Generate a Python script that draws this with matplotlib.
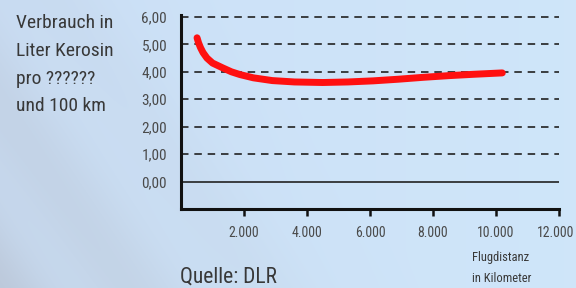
import numpy as np
import matplotlib.pyplot as plt
from matplotlib.transforms import ScaledTranslation

# Verbrauch (Liter Kerosin pro ?????? und 100 km) ueber Flugdistanz (km)
distanz = [510, 560, 620, 700, 825, 1000, 1330, 1600, 1870, 2300, 2900,
           3600, 4500, 5300, 6100, 6900, 7700, 8500, 9300, 10200]
verbrauch = [5.24, 5.05, 4.88, 4.70, 4.50, 4.32, 4.14, 4.00, 3.90, 3.78, 3.68,
             3.63, 3.61, 3.63, 3.67, 3.73, 3.80, 3.86, 3.91, 3.96]

y_ticks = [0, 1, 2, 3, 4, 5, 6]
y_labels = ['0,00', '1,00', '2,00', '3,00', '4,00', '5,00', '6,00']
x_ticks = [2000, 4000, 6000, 8000, 10000, 12000]
x_labels = ['2.000', '4.000', '6.000', '8.000', '10.000', '12.000']

font = ['Roboto Condensed', 'Archivo Narrow', 'DejaVu Sans']
plt.rcParams['font.family'] = font

fig = plt.figure(figsize=(5.76, 2.88), dpi=100)

# background: light blue gradient with soft diagonal streaks on the left
bg = fig.add_axes([0, 0, 1, 1], zorder=-10)
yy, xx = np.mgrid[0:1:288j, 0:1:576j]
light = np.array([0.80, 0.88, 0.97])
grey = np.array([0.74, 0.79, 0.86])
u = xx + 0.35 * (1 - yy)
w = np.clip(1 - u / 0.75, 0, 1) ** 1.5
streak = 0.5 + 0.5 * np.cos(2 * np.pi * (u * 4.2))
w = w * (0.55 + 0.45 * streak)
img = light[None, None, :] * (1 - w[..., None]) + grey[None, None, :] * w[..., None]
img = img + 0.04 * xx[..., None] * np.array([0.3, 0.5, 0.2])
bg.imshow(np.clip(img, 0, 1), aspect='auto', extent=[0, 1, 0, 1])
bg.axis('off')

ax = fig.add_axes([0.3142, 0.2743, 0.6563, 0.6736])
ax.patch.set_alpha(0)
ax.set_xlim(0, 12000)
ax.set_ylim(-1, 6.07)

for v in y_ticks[1:]:
    ax.axhline(v, color='#222222', lw=1.2, ls=(0, (4.5, 3.5)), zorder=1)
ax.axhline(0, color='#222222', lw=1.2, zorder=1)

ax.plot(distanz, verbrauch, color='#ff1010', lw=5, solid_capstyle='round',
        solid_joinstyle='round', zorder=3)

for s in ['top', 'right']:
    ax.spines[s].set_visible(False)
for s in ['left', 'bottom']:
    ax.spines[s].set_linewidth(2.2)
    ax.spines[s].set_color('#111111')

ax.set_yticks(y_ticks)
ax.set_yticklabels(y_labels, fontsize=11, color='#4a4a4a')
ax.tick_params(axis='y', length=0, pad=10)
ax.set_xticks(x_ticks)
ax.set_xticklabels(x_labels, fontsize=10, color='#4a4a4a')
ax.tick_params(axis='x', length=5, width=1.8, color='#111111', pad=7)
last = ax.get_xticklabels()[-1]
last.set_transform(last.get_transform() + ScaledTranslation(-3 / 100, 0, fig.dpi_scale_trans))

lines = ['Verbrauch in', 'Liter Kerosin', 'pro ??????', 'und 100 km']
for i, t in enumerate(lines):
    fig.text(16 / 576, 1 - (23 + i * 27.8) / 288, t, fontsize=14, color='#383838',
             va='center', ha='left')

fig.text(180 / 576, 1 - 277 / 288, 'Quelle: DLR', fontsize=15.5, color='#383838',
         va='center', ha='left')
fig.text(472 / 576, 1 - 258 / 288, 'Flugdistanz', fontsize=9, color='#383838',
         va='center', ha='left')
fig.text(472 / 576, 1 - 278 / 288, 'in Kilometer', fontsize=9, color='#383838',
         va='center', ha='left')

plt.savefig('out.png', dpi=100)
